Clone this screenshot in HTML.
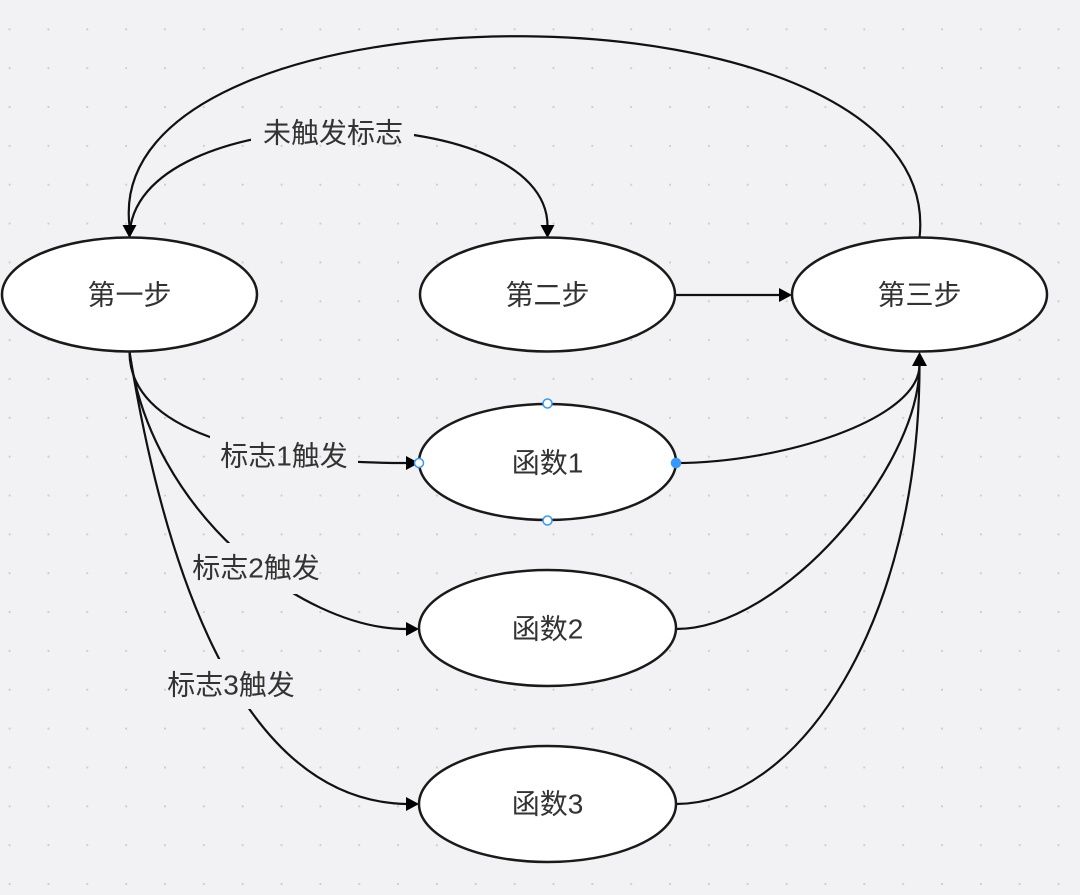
<!DOCTYPE html>
<html>
<head>
<meta charset="utf-8">
<style>
  html, body { margin: 0; padding: 0; background: #f2f2f4; }
  body { width: 1080px; height: 895px; overflow: hidden; }
  svg { display: block; }
  text { font-family: "Liberation Sans", "Noto Sans CJK SC", sans-serif; font-size: 28px; fill: #333333; }
</style>
</head>
<body>
<svg width="1080" height="895" viewBox="0 0 1080 895" xmlns="http://www.w3.org/2000/svg">
  <defs>
    <pattern id="grid" x="8.6" y="28.3" width="38.85" height="38.85" patternUnits="userSpaceOnUse">
      <circle cx="1" cy="1" r="1.1" fill="#cdcdd2"/>
    </pattern>
    <mask id="lblmask" maskUnits="userSpaceOnUse" x="0" y="0" width="1080" height="895">
      <rect x="0" y="0" width="1080" height="895" fill="#fff"/>
      <rect x="251" y="112" width="163" height="42" fill="#000"/>
      <rect x="210" y="436" width="148" height="38" fill="#000"/>
      <rect x="200" y="543" width="130" height="51" fill="#000"/>
      <rect x="160" y="659" width="138" height="50" fill="#000"/>
    </mask>
  </defs>

  <rect x="0" y="0" width="1080" height="895" fill="#f2f2f4"/>
  <rect x="0" y="0" width="1080" height="895" fill="url(#grid)"/>

  <!-- connectors -->
  <g fill="none" stroke="#111" stroke-width="2.2" mask="url(#lblmask)">
    <path d="M 919.5 238 C 949.5 -29, 99.5 -29, 129.5 226"/>
    <path d="M 129.5 238 C 129.5 96, 547.5 96, 547.5 226"/>
    <path d="M 129.5 352 C 129.5 430, 250 463, 406 463"/>
    <path d="M 129.5 352 C 150 510, 300 629, 406 629"/>
    <path d="M 129.5 352 C 160 540, 230 800, 406 804"/>
    <path d="M 676 463 C 780 463, 919.5 420, 919.5 365"/>
    <path d="M 676 629 C 780 629, 919.5 470, 919.5 365"/>
    <path d="M 676 804 C 800 804, 919.5 620, 919.5 365"/>
    <path d="M 675 295 L 780 295"/>
  </g>

  <!-- arrowheads -->
  <g fill="#000">
    <polygon points="129.5,238 122.5,225 136.5,225"/>
    <polygon points="547.5,238 540.5,225 554.5,225"/>
    <polygon points="792,295 779,288 779,302"/>
    <polygon points="419,463 406,456 406,470"/>
    <polygon points="419,629 406,622 406,636"/>
    <polygon points="419,804 406,797 406,811"/>
    <polygon points="919.5,352 912,366 927,366"/>
  </g>

  <!-- nodes -->
  <g fill="#fff" stroke="#1a1a1a" stroke-width="2.5">
    <ellipse cx="129.5" cy="294.5" rx="127.5" ry="57"/>
    <ellipse cx="547.5" cy="294.5" rx="127.5" ry="57"/>
    <ellipse cx="919.5" cy="294.5" rx="127.5" ry="57"/>
    <ellipse cx="547.5" cy="462" rx="128.5" ry="58"/>
    <ellipse cx="547.5" cy="628" rx="128.5" ry="58"/>
    <ellipse cx="547.5" cy="804" rx="128.5" ry="58"/>
  </g>

  <!-- selection handles on 函数1 -->
  <g stroke="#3399ff" stroke-width="1.5">
    <circle cx="547.5" cy="403.5" r="4.5" fill="#fff"/>
    <circle cx="547.5" cy="520.5" r="4.5" fill="#fff"/>
    <circle cx="419" cy="463" r="4.5" fill="#fff"/>
    <circle cx="676" cy="463" r="4.5" fill="#3399ff"/>
  </g>

  <!-- node labels -->
  <g text-anchor="middle" dominant-baseline="central">
    <text x="129.5" y="295">第一步</text>
    <text x="547.5" y="295">第二步</text>
    <text x="919.5" y="295">第三步</text>
    <text x="547.5" y="463">函数1</text>
    <text x="547.5" y="629">函数2</text>
    <text x="547.5" y="804">函数3</text>

    <text x="333" y="133">未触发标志</text>
    <text x="284" y="456">标志1触发</text>
    <text x="256" y="568">标志2触发</text>
    <text x="231" y="685">标志3触发</text>
  </g>
</svg>
</body>
</html>
